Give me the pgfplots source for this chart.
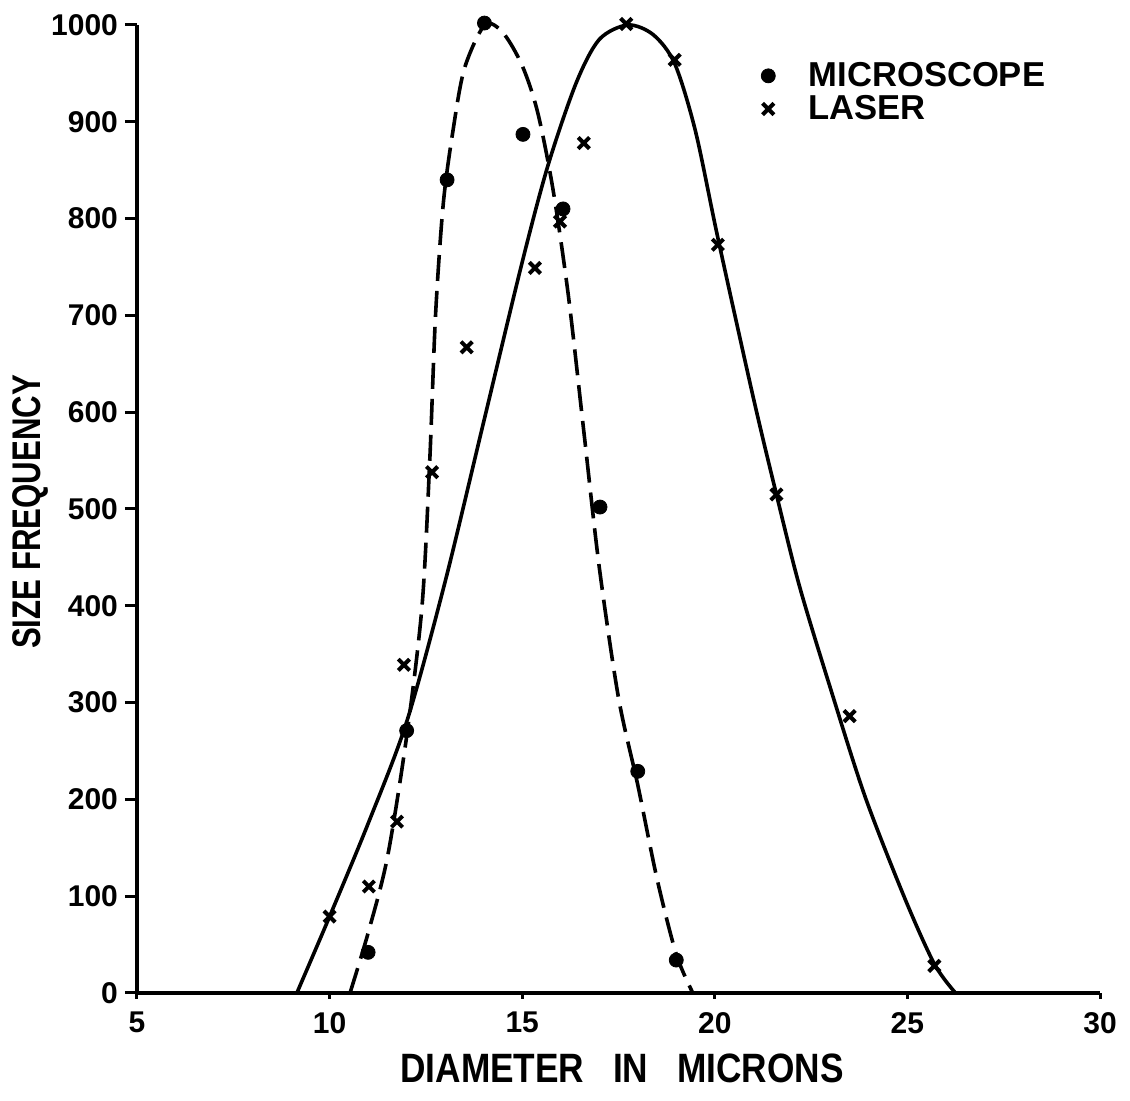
\documentclass[border=0pt]{standalone}
\usepackage{fontspec}
\setmainfont{Liberation Sans}[BoldFont={Liberation Sans Bold}]
\newfontfamily\lab[FakeStretch=0.78]{Liberation Sans Bold}
\newfontfamily\labx[FakeStretch=0.86]{Liberation Sans Bold}
\newfontfamily\tk{Liberation Sans Bold}
\usepackage{pgfplots}
\pgfplotsset{compat=1.18}
\begin{document}
\begin{tikzpicture}
\begin{axis}[
  scale only axis, width=481.5pt, height=484pt,
  xmin=5, xmax=30, ymin=0, ymax=1000,
  axis lines=left, axis line style={-, line width=2pt},
  xtick={5,10,...,30}, ytick={0,100,...,1000},
  tick align=outside, major tick length=6pt,
  tick style={line width=1.5pt, black},
  xtick style={/pgfplots/major tick length=3pt},
  ticklabel style={font=\tk\fontsize{15}{15}\selectfont},
  /pgf/number format/assume math mode=true,
  /pgf/number format/1000 sep={},
  xlabel={DIAMETER\hspace{0.7em}IN\hspace{0.7em}MICRONS},
  ylabel={SIZE FREQUENCY},
  xlabel style={font=\labx\fontsize{20.5}{20.5}\selectfont, at={(axis description cs:0.5036,-0.0775)}, anchor=center},
  ylabel style={font=\lab\fontsize{20}{20}\selectfont, at={(axis description cs:-0.111,0.497)}, anchor=center},
  clip=false,
  legend style={draw=none, fill=none, at={(axis description cs:0.637,0.965)}, anchor=north west,
    font=\tk\fontsize{17.3}{17.3}\selectfont, row sep=0pt, inner sep=0pt, nodes={inner sep=1.5pt}},
  legend cell align=left,
  legend image code/.code={\path (0cm,0cm) (0.95cm,0cm); \draw[#1] plot coordinates {(0.3cm,0cm)};},
]
% Laser fitted curve (solid)
\addplot[black, line width=1.8pt, smooth, forget plot] coordinates {
(9.15,0)(10,79)(11,175)(12,280)(13,425)(14,590)(15,755)(15.67,855)(16.4,940)(17.0,985)(17.74,1000)(18.4,990)(18.96,960)(19.5,890)(20.08,780)(21.0,615)(21.6,515)(22.2,420)(23.0,315)(23.9,203)(24.93,98)(25.7,30)(26.25,0)
};
% Microscope fitted curve (dashed)
\addplot[black, line width=1.8pt, smooth, dash pattern=on 13pt off 5pt, forget plot] coordinates {
(10.53,0)(11,62)(11.5,140)(12,265)(12.4,400)(12.6,550)(12.75,700)(12.95,815)(13.2,890)(13.5,955)(14.03,1000)(14.5,992)(15.0,958)(15.4,910)(15.8,830)(16.2,720)(16.6,580)(17.0,440)(17.5,305)(18.0,215)(18.5,118)(19.0,40)(19.43,0)
};
\addplot[only marks, mark=*, mark size=3.5pt, black] coordinates {
(11,42)(12,271)(13.05,840)(14.02,1002)(15.02,887)(16.06,810)(17.02,502)(18.0,229)(19.0,34)
};
\addlegendentry{MICROSCOPE}
\addplot[only marks, mark=x, mark size=4pt, black, mark options={line width=2pt}] coordinates {
(10,79)(11.02,110)(11.75,177)(11.93,339)(12.66,538)(13.56,667)(15.33,749)(15.98,797)(16.6,878)(17.7,1001)(18.96,964)(20.08,773)(21.6,515)(23.5,286)(25.7,28)
};
\addlegendentry{LASER}
\end{axis}
\pgfresetboundingbox
\useasboundingbox (-68.5pt,-54pt) rectangle (496.5pt,496.5pt);
\end{tikzpicture}
\end{document}
